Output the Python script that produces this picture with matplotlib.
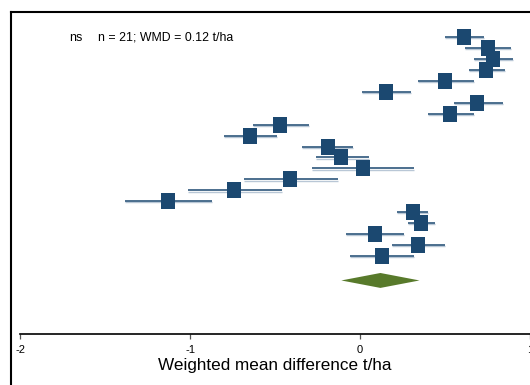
import matplotlib
matplotlib.use("Agg")
import matplotlib.pyplot as plt
from matplotlib.path import Path
from matplotlib.lines import Line2D
from matplotlib import font_manager

# Study estimates (weighted mean difference, t/ha) with 95% CI, top to bottom
wmd = [0.61, 0.75, 0.78, 0.74, 0.50, 0.15, 0.69, 0.53, -0.47, -0.65, -0.19,
       -0.11, 0.02, -0.41, -0.74, -1.13, 0.31, 0.36, 0.09, 0.34, 0.13]
ci_low = [0.50, 0.62, 0.67, 0.64, 0.34, 0.01, 0.55, 0.40, -0.63, -0.80, -0.34,
          -0.26, -0.28, -0.68, -1.01, -1.38, 0.22, 0.28, -0.08, 0.19, -0.06]
ci_high = [0.73, 0.89, 0.90, 0.85, 0.67, 0.30, 0.84, 0.67, -0.30, -0.49, -0.04,
           0.05, 0.32, -0.13, -0.46, -0.87, 0.40, 0.44, 0.26, 0.50, 0.32]
pooled = 0.12
pooled_low = -0.11
pooled_high = 0.35
xticks = [-2, -1, 0, 1]
xlabel = "Weighted mean difference t/ha"
annot_sig = "ns"
annot_text = "n = 21; WMD = 0.12 t/ha"

names = {f.name for f in font_manager.fontManager.ttflist}
fam = [f for f in ["Liberation Sans Narrow", "Liberation Sans", "DejaVu Sans"] if f in names]
plt.rcParams["font.family"] = fam

W, H = 530, 385
fig = plt.figure(figsize=(W / 100, H / 100), dpi=100)

# axes placement in pixels
ax_left, ax_right = 20, 530
ax_top, ax_bottom = 12, 334
ax = fig.add_axes([ax_left / W, 1 - ax_bottom / H, (ax_right - ax_left) / W,
                   (ax_bottom - ax_top) / H])

blue = "#1B4870"
green = "#587A2B"
shadow = "#B9C7D6"

n = len(wmd)
ys = list(range(n))
row_px = 10.98
first_px = 36.7
units = (ax_bottom - ax_top) / row_px
top_off = (first_px - ax_top) / row_px
ax.set_ylim(units - top_off, -top_off)
ax.set_xlim(-2, 1)

# light shadow under CI lines (anti-aliased look)
ax.hlines([y + 0.1 for y in ys], ci_low, ci_high, color=shadow, lw=1.0, zorder=1)
ax.hlines(ys, ci_low, ci_high, color=blue, lw=1.1, zorder=2)

rect = Path([(-0.42, -0.5), (0.42, -0.5), (0.42, 0.5), (-0.42, 0.5), (-0.42, -0.5)],
            [Path.MOVETO, Path.LINETO, Path.LINETO, Path.LINETO, Path.CLOSEPOLY])
ax.plot(wmd, ys, linestyle="none", marker=rect, markersize=11.2,
        markerfacecolor=blue, markeredgewidth=0, zorder=3)

# pooled diamond
yd = n + 1.2
dh = 0.68
ax.fill([pooled_low, pooled, pooled_high, pooled],
        [yd, yd - dh, yd, yd + dh], color=green, lw=0, zorder=3)

for s in ["top", "left", "right"]:
    ax.spines[s].set_visible(False)
ax.spines["bottom"].set_linewidth(1.2)
ax.set_yticks([])
ax.set_xticks(xticks)
ax.set_xticklabels([str(t) for t in xticks])
ax.tick_params(axis="x", direction="out", length=3.5, width=0.9, labelsize=8,
               pad=4.5, color="#555555")
ax.set_xlabel(xlabel, fontsize=12.3, labelpad=2)

# annotation
fig.text(69 / W, 1 - 38 / H, annot_sig, fontsize=9, va="center", ha="left")
fig.text(98 / W, 1 - 38 / H, annot_text, fontsize=8.9, va="center", ha="left")

# outer frame (cropped)
fig.add_artist(Line2D([10.5 / W, 1], [1 - 12 / H, 1 - 12 / H], color="black", lw=1.5,
                      transform=fig.transFigure))
fig.add_artist(Line2D([10.5 / W, 10.5 / W], [0, 1 - 12 / H], color="black", lw=1.5,
                      transform=fig.transFigure))

fig.savefig("out.png", dpi=100)
